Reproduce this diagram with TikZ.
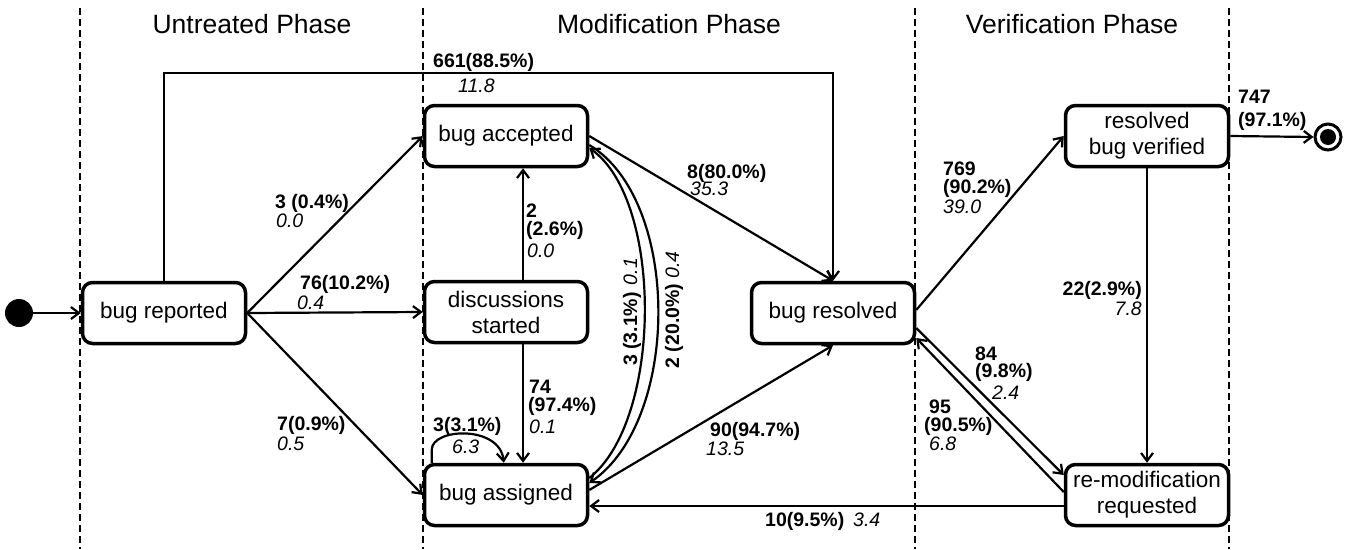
\documentclass[tikz,border=0pt]{standalone}
\usepackage{fontspec}
\setmainfont{Liberation Sans}
\usetikzlibrary{arrows.meta}
\begin{document}
\begin{tikzpicture}[x=1pt,y=-1pt,
  state/.style={draw, line width=3.5pt, rounded corners=10pt, fill=white, minimum width=163pt, minimum height=61pt, align=center, inner sep=2pt, font=\fontsize{22.5}{26}\selectfont},
  arr/.style={line width=2.2pt, -{Straight Barb[length=8pt,width=12pt]}},
  lane/.style={line width=2.2pt, dash pattern=on 7pt off 4pt},
  phase/.style={font=\fontsize{26.5}{30}\selectfont, anchor=base, inner sep=0pt},
  lb/.style={font=\fontsize{19.5}{20}\selectfont\bfseries, anchor=base west, inner sep=0pt},
  li/.style={font=\fontsize{19.5}{20}\selectfont\itshape, anchor=base west, inner sep=0pt},
]
\useasboundingbox (0,0) rectangle (1356,549);

% lanes
\coordinate (d1t) at (80,8);   \coordinate (d1b) at (80,549);
\coordinate (d2t) at (423,8);  \coordinate (d2b) at (423,549);
\coordinate (d3t) at (915,8);  \coordinate (d3b) at (915,549);
\coordinate (d4t) at (1229,8); \coordinate (d4b) at (1229,549);
\draw[lane] (d1t) -- (d1b);
\draw[lane] (d2t) -- (d2b);
\draw[lane] (d3t) -- (d3b);
\draw[lane] (d4t) -- (d4b);

\node[phase] (p1) at (252,33) {Untreated Phase};
\node[phase] (p2) at (669,33) {Modification Phase};
\node[phase] (p3) at (1072,33) {Verification Phase};

% states
\node[state] (br) at (164,313) {bug reported};
\node[state] (bacc) at (506,136) {bug accepted};
\node[state] (ds) at (506,312) {discussions\\started};
\node[state] (bas) at (506,495) {bug assigned};
\node[state] (bres) at (833,313) {bug resolved};
\node[state] (rbv) at (1147,136) {resolved\\bug verified};
\node[state] (rm) at (1147,495) {re-modification\\requested};

\node[circle, fill=black, minimum size=28pt, inner sep=0pt] (init) at (19,313) {};
\node[circle, draw, line width=3pt, fill=white, minimum size=26pt, inner sep=0pt] (fin) at (1328,137) {};
\node[circle, fill=black, minimum size=16pt, inner sep=0pt] (finin) at (1328,137) {};

% connectors
\draw[arr] (init) -- (br.west);
\coordinate (ctop) at (164,73);
\draw[arr] (br.north) -- (ctop) -| (bres.north);
\draw[arr] (br.east) -- (bacc.west);
\draw[arr] (br.east) -- (ds.west);
\draw[arr] (br.east) -- (bas.west);
\draw[arr] ([xshift=17pt]ds.north) -- ([xshift=17pt]bacc.south);
\draw[arr] ([xshift=17pt]ds.south) -- ([xshift=17pt]bas.north);
\draw[arr] ([xshift=9pt]bas.north west) -- ++(0,-13) .. controls +(0,-22) and (500,425) .. ([xshift=81pt]bas.north west);
\draw[arr] (bacc.east) -- (bres.north);
\draw[arr] ([yshift=5pt]bas.east) -- (bres.south);
\draw[arr] ([yshift=17pt]bas.east) .. controls (663,420) and (663,200) .. ([yshift=-12pt]bacc.east);
\draw[arr] ([yshift=-9pt]bacc.east) .. controls (681,200) and (681,420) .. ([yshift=12pt]bas.east);
\draw[arr] ([yshift=3pt]bres.east) -- (rbv.west);
\draw[arr] (rbv.east) -- (fin.west);
\draw[arr] (rbv.south) -- (rm.north);
\draw[arr] ([yshift=-15pt]bres.east) -- ([yshift=20pt]rm.west);
\draw[arr] ([yshift=3pt]rm.west) -- ([yshift=-25pt]bres.east);
\draw[arr] ([yshift=-11pt]rm.west) -- ([yshift=-11pt]bas.east);

% labels
\node[lb] (l1) at (433,67) {661(88.5\%)};
\node[li] (l2) at (458,92) {11.8};
\node[lb] (l3) at (275,208) {3 (0.4\%)};
\node[li] (l4) at (276,227) {0.0};
\node[lb] (l5) at (300,289) {76(10.2\%)};
\node[li] (l6) at (297,309) {0.4};
\node[lb] (l7) at (277,430) {7(0.9\%)};
\node[li] (l8) at (277,450) {0.5};
\node[lb] (l9) at (526,217) {2};
\node[lb] (l10) at (526,235) {(2.6\%)};
\node[li] (l11) at (527,257) {0.0};
\node[lb] (l12) at (687,178) {8(80.0\%)};
\node[li] (l13) at (690,195) {35.3};
\node[lb] (l14) at (529,393) {74};
\node[lb] (l15) at (528,411) {(97.4\%)};
\node[li] (l16) at (529,433) {0.1};
\node[lb] (l17) at (433,431) {3(3.1\%)};
\node[li] (l18) at (452,453) {6.3};
\node[lb] (l19) at (710,436) {90(94.7\%)};
\node[li] (l20) at (706,455) {13.5};
\node[lb] (l21) at (765,526) {10(9.5\%)};
\node[li] (l22) at (853,526) {3.4};
\node[lb] (l23) at (943,175) {769};
\node[lb] (l24) at (943,193) {(90.2\%)};
\node[li] (l25) at (943,213) {39.0};
\node[lb] (l26) at (1238,103) {747};
\node[lb] (l27) at (1238,126) {(97.1\%)};
\node[lb, anchor=base east] (l28) at (1142,295) {22(2.9\%)};
\node[li, anchor=base east] (l29) at (1142,315) {7.8};
\node[lb] (l30) at (975,360) {84};
\node[lb] (l31) at (975,377) {(9.8\%)};
\node[li] (l32) at (992,399) {2.4};
\node[lb] (l33) at (929,413) {95};
\node[lb] (l34) at (924,431) {(90.5\%)};
\node[li] (l35) at (929,450) {6.8};
\node[rotate=90, inner sep=0pt, font=\fontsize{19.5}{20}\selectfont] (l36) at (632,312) {\textbf{3 (3.1\%)}\hspace{7pt}\textit{0.1}};
\node[rotate=90, inner sep=0pt, font=\fontsize{19.5}{20}\selectfont] (l37) at (674,310) {\textbf{2 (20.0\%)}\hspace{5pt}\textit{0.4}};
\end{tikzpicture}
\end{document}
